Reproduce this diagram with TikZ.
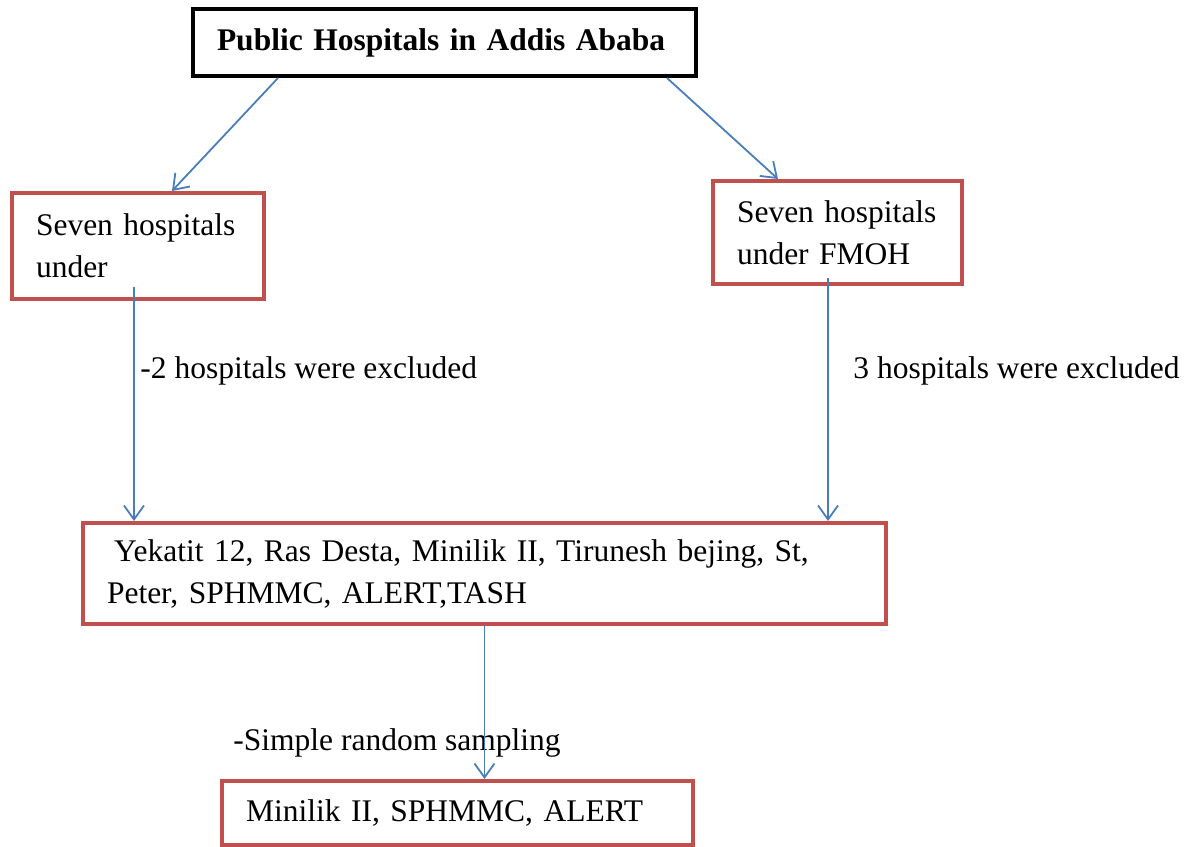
\documentclass[tikz,border=0pt]{standalone}
\usepackage{fontspec}
\setmainfont{Liberation Serif}
\usetikzlibrary{arrows.meta}
\definecolor{boxred}{HTML}{C0504D}
\definecolor{linkblue}{HTML}{4A7EBB}
\begin{document}
\begin{tikzpicture}[x=0.5pt,y=-0.5pt]
      \tikzset{
        every node/.style={font=\fontsize{15.75}{21}\selectfont},
        hbox/.style={draw=boxred,line width=2pt,inner xsep=12pt,inner ysep=0pt,align=left},
        note/.style={anchor=west,inner sep=0pt},
        link/.style={draw=linkblue,line width=0.9pt,-{Straight Barb[length=7pt,width=10pt]}}
      }
      \useasboundingbox (0,0) rectangle (1194,846);

      \node[hbox,draw=black,text width=227.5pt,minimum height=33.5pt,font=\fontsize{15.75}{21}\selectfont\bfseries] (top) at (444.5,42.5) {Public Hospitals in Addis Ababa};
      \node[hbox,text width=102pt,minimum height=53pt] (left) at (138,246) {Seven hospitals\\under};
      \node[hbox,text width=100.5pt,minimum height=51.5pt] (right) at (837.5,232.5) {Seven hospitals\\under FMOH};
      \node[hbox,text width=377.5pt,minimum height=50.5pt] (mid) at (484.5,573.5) {\hspace{3.5pt}Yekatit 12, Ras Desta, Minilik II, Tirunesh bejing, St,\\Peter, SPHMMC, ALERT,TASH};
      \node[hbox,text width=211.5pt,minimum height=32pt] (last) at (457.5,813) {Minilik II, SPHMMC, ALERT};

      \node[note] (ex1) at (140,371) {-2 hospitals were excluded};
      \node[note] (ex2) at (853,371) {3 hospitals were excluded};
      \node[note] (srs) at (233,743) {-Simple random sampling};

      \coordinate (s1) at ([xshift=-2pt,yshift=7pt]left.south);
      \coordinate (s2) at ([xshift=-4.75pt,yshift=4pt]right.south);

      \draw[link] ([xshift=-83.25pt]top.south) -- ([xshift=17pt]left.north);
      \draw[link] ([xshift=111.25pt]top.south) -- ([xshift=-29.75pt]right.north);
      \draw[link] (s1) -- (s1 |- mid.north);
      \draw[link] (s2) -- (s2 |- mid.north);
      \draw[link] (mid.south) -- (mid.south |- last.north);
    \end{tikzpicture}
\end{document}
